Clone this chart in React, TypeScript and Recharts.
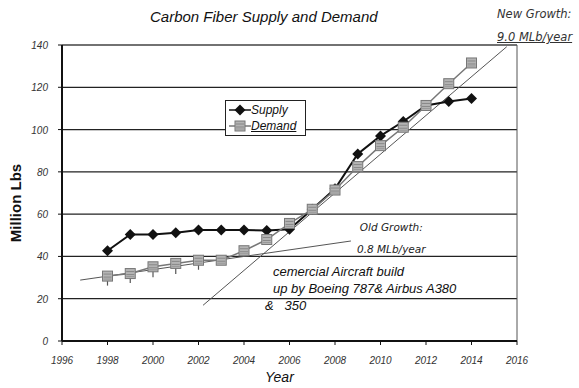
import {
  ComposedChart,
  Line,
  XAxis,
  YAxis,
  CartesianGrid,
  ReferenceLine,
  ErrorBar,
} from 'recharts'

const years = [1998, 1999, 2000, 2001, 2002, 2003, 2004, 2005, 2006, 2007, 2008, 2009, 2010, 2011, 2012, 2013, 2014]
const supply = [42.7, 50.4, 50.4, 51.2, 52.5, 52.5, 52.5, 52.3, 52.8, 62.3, 72, 88.5, 97, 103.8, 111.4, 113.3, 114.7]
const demand = [30.7, 31.9, 35.1, 36.7, 38.2, 38.2, 42.7, 48, 55.6, 62.3, 71.4, 82.5, 92.4, 101.1, 111.4, 121.7, 131.5]
const demandLowErr = [4.5, 4.5, 5, 5, 4.5, 0, 0, 0, 0, 0, 0, 0, 0, 0, 0, 0, 0]

const oldGrowthYears = [1996.8, 2008.7]
const oldGrowthValues = [28.8, 47.3]
const newGrowthYears = [2002.2, 2015.55]
const newGrowthValues = [16.9, 139.2]

const xTicks = [1996, 1998, 2000, 2002, 2004, 2006, 2008, 2010, 2012, 2014, 2016]
const yTicks = [0, 20, 40, 60, 80, 100, 120, 140]

const data = years.map((year, i) => ({
  year,
  supply: supply[i],
  demand: demand[i],
  demandErr: demandLowErr[i] ? [demandLowErr[i], 0] : null,
}))
const oldGrowth = oldGrowthYears.map((year, i) => ({ year, trend: oldGrowthValues[i] }))
const newGrowth = newGrowthYears.map((year, i) => ({ year, trend: newGrowthValues[i] }))

const tickFont = '"Liberation Sans", Arial, sans-serif'
const noteFont = '"DejaVu Sans", Verdana, sans-serif'

const Diamond = ({ cx, cy }: any) => {
  if (cx == null || cy == null) return null
  const s = 5.5
  return (
    <polygon
      points={`${cx},${cy - s} ${cx + s},${cy} ${cx},${cy + s} ${cx - s},${cy}`}
      fill="#111"
    />
  )
}

const HatchSquare = ({ cx, cy }: any) => {
  if (cx == null || cy == null) return null
  return (
    <g>
      <rect x={cx - 5} y={cy - 5} width={10} height={10} fill="#b4b4b4" stroke="#777" />
      <line x1={cx - 4} y1={cy - 2} x2={cx + 4} y2={cy - 2} stroke="#888" />
      <line x1={cx - 4} y1={cy + 1} x2={cx + 4} y2={cy + 1} stroke="#888" />
      <line x1={cx - 4} y1={cy + 3} x2={cx + 4} y2={cy + 3} stroke="#999" />
    </g>
  )
}

const XTick = ({ x, y, payload }: any) => (
  <text
    x={x}
    y={y + 17}
    textAnchor="middle"
    fontSize={10}
    fontStyle="italic"
    fontFamily={tickFont}
    fill="#333"
  >
    {payload.value}
  </text>
)

const YTick = ({ x, y, payload }: any) => (
  <text
    x={x - 8}
    y={y + 4}
    textAnchor="end"
    fontSize={10}
    fontStyle="italic"
    fontFamily={tickFont}
    fill="#333"
  >
    {payload.value}
  </text>
)

// legend drawn as a plain box so it doesn't eat plot space
const LegendBox = () => (
  <div
    style={{
      position: 'absolute',
      left: 225,
      top: 100,
      border: '1px solid #222',
      background: '#fff',
      width: 76,
      padding: '1px 0 1px 3px',
      fontFamily: tickFont,
      fontStyle: 'italic',
      fontSize: 12,
      lineHeight: '16px',
      color: '#111',
    }}
  >
    <div style={{ display: 'flex', alignItems: 'center' }}>
      <svg width={22} height={12}>
        <line x1={0} y1={6} x2={22} y2={6} stroke="#111" strokeWidth={1.5} />
        <Diamond cx={11} cy={6} />
      </svg>
      <span>Supply</span>
    </div>
    <div style={{ display: 'flex', alignItems: 'center' }}>
      <svg width={22} height={12}>
        <line x1={0} y1={6} x2={22} y2={6} stroke="#777" strokeWidth={1.5} />
        <HatchSquare cx={11} cy={6} />
      </svg>
      <span style={{ textDecoration: 'underline' }}>Demand</span>
    </div>
  </div>
)

const note = (extra: React.CSSProperties): React.CSSProperties => ({
  position: 'absolute',
  whiteSpace: 'nowrap',
  fontStyle: 'italic',
  ...extra,
})

export default function App() {
  return (
    <div style={{ position: 'absolute', left: 0, top: 0, width: 579, height: 388, background: '#fff' }}>
      <ComposedChart
        width={579}
        height={388}
        data={data}
        margin={{ top: 45, right: 62, bottom: 17, left: 32 }}
      >
        <CartesianGrid horizontal vertical={false} stroke="#222" strokeWidth={1.2} />
        <XAxis
          dataKey="year"
          type="number"
          domain={[1996, 2016]}
          ticks={xTicks}
          allowDataOverflow
          height={30}
          axisLine={{ stroke: '#111', strokeWidth: 2 }}
          tickLine={{ stroke: '#111' }}
          tickSize={4}
          tick={<XTick />}
        />
        <YAxis
          type="number"
          domain={[0, 140]}
          ticks={yTicks}
          width={30}
          axisLine={{ stroke: '#111', strokeWidth: 2 }}
          tickLine={{ stroke: '#111' }}
          tickSize={4}
          tick={<YTick />}
        />
        <ReferenceLine x={2016} stroke="#555" strokeWidth={1} />
        <ReferenceLine y={140} stroke="#555" strokeWidth={1} />
        <Line
          data={oldGrowth}
          dataKey="trend"
          stroke="#555"
          strokeWidth={1}
          dot={false}
          isAnimationActive={false}
        />
        <Line
          data={newGrowth}
          dataKey="trend"
          stroke="#555"
          strokeWidth={1}
          dot={false}
          isAnimationActive={false}
        />
        <Line
          dataKey="supply"
          name="Supply"
          stroke="#111"
          strokeWidth={2}
          dot={<Diamond />}
          isAnimationActive={false}
        />
        <Line
          dataKey="demand"
          name="Demand"
          stroke="#777"
          strokeWidth={1.5}
          dot={<HatchSquare />}
          isAnimationActive={false}
        >
          <ErrorBar dataKey="demandErr" direction="y" width={0} stroke="#555" strokeWidth={1.2} />
        </Line>
      </ComposedChart>

      <LegendBox />

      <div style={note({ left: 150, top: 8, fontSize: 15, fontFamily: tickFont, color: '#111' })}>
        Carbon Fiber Supply and Demand
      </div>
      <div
        style={note({
          left: 497,
          top: 3,
          fontSize: 11.5,
          fontFamily: noteFont,
          color: '#333',
          lineHeight: '23px',
        })}
      >
        <div>New Growth:</div>
        <div style={{ textDecoration: 'underline' }}>9.0 MLb/year</div>
      </div>
      <div
        style={note({
          left: 357,
          top: 216,
          fontSize: 10.5,
          fontFamily: noteFont,
          color: '#222',
          lineHeight: '22px',
          textAlign: 'center',
        })}
      >
        <div>Old Growth:</div>
        <div>0.8 MLb/year</div>
      </div>
      <div
        style={note({
          left: 273,
          top: 263,
          fontSize: 13,
          fontFamily: tickFont,
          color: '#111',
          lineHeight: '17px',
        })}
      >
        <div>cemercial Aircraft build</div>
        <div>up by Boeing 787&amp; Airbus A380</div>
        <div style={{ marginLeft: -8 }}>&amp;&nbsp;&nbsp; 350</div>
      </div>
      <div
        style={{
          position: 'absolute',
          left: 15,
          top: 203,
          transform: 'translate(-50%, -50%) rotate(-90deg)',
          whiteSpace: 'nowrap',
          fontFamily: tickFont,
          fontWeight: 'bold',
          fontSize: 15,
          color: '#111',
        }}
      >
        Million Lbs
      </div>
      <div style={note({ left: 265, top: 369, fontSize: 14, fontFamily: tickFont, color: '#111' })}>
        Year
      </div>
    </div>
  )
}
